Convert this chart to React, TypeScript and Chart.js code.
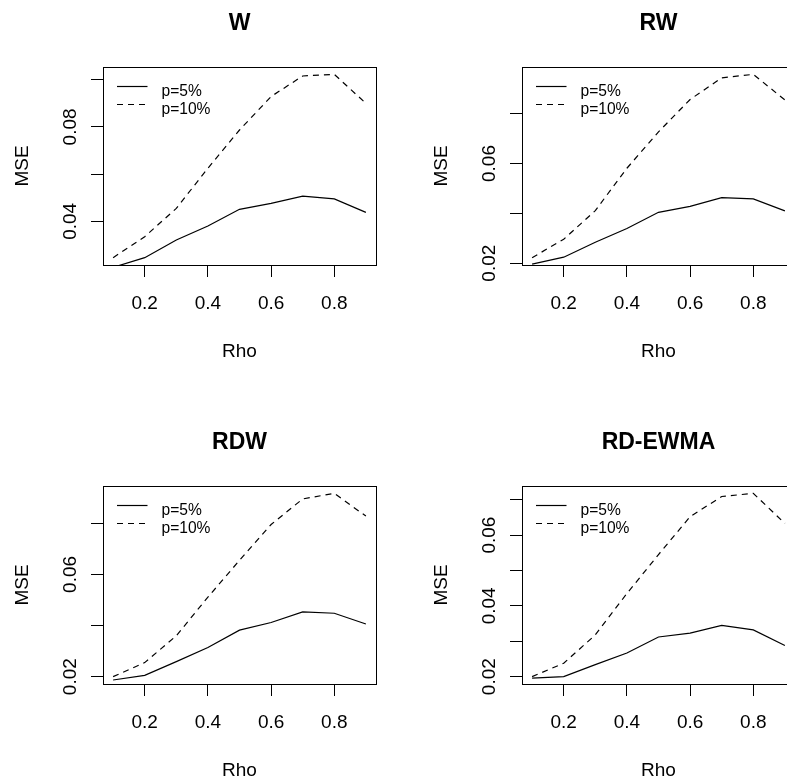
import React, { useEffect, useRef } from 'react';
import { Chart, registerables } from 'chart.js';

Chart.register(...registerables);

// ---- data ----
const rho = [0.1, 0.2, 0.3, 0.4, 0.5, 0.6, 0.7, 0.8, 0.9];

const wP5 = [0.0205, 0.0246, 0.0321, 0.038, 0.0451, 0.0476, 0.0507, 0.0495, 0.0438];
const wP10 = [0.0246, 0.0335, 0.0455, 0.0625, 0.0787, 0.0929, 0.1016, 0.1023, 0.09];

const rwP5 = [0.0196, 0.0224, 0.0284, 0.0339, 0.0404, 0.0428, 0.0463, 0.0458, 0.041];
const rwP10 = [0.0222, 0.0296, 0.0411, 0.0581, 0.0727, 0.0857, 0.0944, 0.0958, 0.0855];

const rdwP5 = [0.0187, 0.0205, 0.0259, 0.0314, 0.0382, 0.0412, 0.0453, 0.0448, 0.0406];
const rdwP10 = [0.02, 0.0255, 0.036, 0.0511, 0.0655, 0.0795, 0.0895, 0.0917, 0.0828];

const ewmaP5 = [0.0196, 0.02, 0.0234, 0.0267, 0.0312, 0.0323, 0.0345, 0.0332, 0.0288];
const ewmaP10 = [0.02, 0.0238, 0.0318, 0.0435, 0.0545, 0.0652, 0.0709, 0.0718, 0.0633];

const xTicks = [0.2, 0.4, 0.6, 0.8];
const wYTicks = [0.04, 0.06, 0.08, 0.1];
const wYLabels = [0.04, 0.08];
const rwYTicks = [0.02, 0.04, 0.06, 0.08];
const rwYLabels = [0.02, 0.06];
const rdwYTicks = [0.02, 0.04, 0.06, 0.08];
const rdwYLabels = [0.02, 0.06];
const ewmaYTicks = [0.02, 0.03, 0.04, 0.05, 0.06, 0.07];
const ewmaYLabels = [0.02, 0.04, 0.06];

const seriesLabels = ['p=5%', 'p=10%'];
const panelTitles = ['W', 'RW', 'RDW', 'RD-EWMA'];
const xTitle = 'Rho';
const yTitle = 'MSE';

const FONT = "'Liberation Sans', Arial, Helvetica, sans-serif";
const CW = 419;
const CH = 419;

const framePlugin = {
  id: 'frame',
  afterDraw(chart: any, _args: any, opts: any) {
    const { ctx, chartArea } = chart;
    const { left, top, right, bottom } = chartArea;
    ctx.save();
    // box
    ctx.strokeStyle = '#000';
    ctx.lineWidth = 1;
    ctx.setLineDash([]);
    const l = Math.round(left) + 0.5;
    const t = Math.round(top) + 0.5;
    const r = Math.round(right) + 0.5;
    const b = Math.round(bottom) + 0.5;
    ctx.strokeRect(l, t, r - l, b - t);
    // title
    ctx.fillStyle = '#000';
    ctx.font = `bold 23px ${FONT}`;
    ctx.textAlign = 'center';
    ctx.textBaseline = 'alphabetic';
    ctx.fillText(opts.title, (left + right) / 2, top - 37.5);
    // legend
    chart.data.datasets.forEach((ds: any, i: number) => {
      const y = Math.round(top + 19 + i * 18) + 0.5;
      ctx.lineWidth = 1.2;
      ctx.setLineDash(ds.borderDash || []);
      ctx.beginPath();
      ctx.moveTo(left + 14, y);
      ctx.lineTo(left + 44.5, y);
      ctx.stroke();
      ctx.setLineDash([]);
      ctx.font = `15.6px ${FONT}`;
      ctx.textAlign = 'left';
      ctx.textBaseline = 'alphabetic';
      ctx.fillText(ds.label, left + 58.5, y + 9);
    });
    ctx.restore();
  },
};

function near(a: number, list: number[]) {
  return list.some((v) => Math.abs(v - a) < 1e-9);
}

function Panel(props: { title: string; p5: number[]; p10: number[]; yTicks: number[]; yLabels: number[] }) {
  const ref = useRef<HTMLCanvasElement | null>(null);
  useEffect(() => {
    const { title, p5, p10, yTicks, yLabels } = props;
    const lo = Math.min(...p10);
    const hi = Math.max(...p10);
    const yPad = (hi - lo) * 0.04;
    const xlo = Math.min(...rho);
    const xhi = Math.max(...rho);
    const xPad = (xhi - xlo) * 0.04;
    const gridOpts = {
      display: true,
      drawOnChartArea: false,
      drawTicks: true,
      tickLength: 12,
      color: '#000',
      lineWidth: 1,
    };
    const chart = new Chart(ref.current as HTMLCanvasElement, {
      type: 'line',
      data: {
        datasets: [
          {
            label: seriesLabels[0],
            data: rho.map((x, i) => ({ x, y: p5[i] })),
            borderColor: '#000',
            borderWidth: 1.2,
            pointRadius: 0,
            tension: 0,
            fill: false,
          },
          {
            label: seriesLabels[1],
            data: rho.map((x, i) => ({ x, y: p10[i] })),
            borderColor: '#000',
            borderWidth: 1.2,
            borderDash: [6, 5],
            pointRadius: 0,
            tension: 0,
            fill: false,
          },
        ],
      },
      options: {
        animation: false,
        responsive: false,
        devicePixelRatio: 1,
        layout: { padding: { top: 67, right: CW - 376, left: 0, bottom: 0 } },
        plugins: {
          legend: { display: false },
          tooltip: { enabled: false },
          title: { display: false },
          frame: { title },
        } as any,
        scales: {
          x: {
            type: 'linear',
            bounds: 'data',
            min: xlo - xPad,
            max: xhi + xPad,
            afterBuildTicks: (s: any) => {
              s.ticks = xTicks.map((v) => ({ value: v }));
            },
            afterFit: (s: any) => {
              s.height = CH - 265;
            },
            grid: gridOpts,
            border: { display: false },
            ticks: {
              font: { family: FONT, size: 19 },
              color: '#000',
              padding: 15,
              autoSkip: false,
              maxRotation: 0,
              minRotation: 0,
              callback: (v: any) => Number(v).toFixed(1),
            },
            title: {
              display: true,
              text: xTitle,
              font: { family: FONT, size: 19 },
              color: '#000',
              padding: { top: 0, bottom: 56 },
            },
          },
          y: {
            type: 'linear',
            bounds: 'data',
            min: lo - yPad,
            max: hi + yPad,
            afterBuildTicks: (s: any) => {
              s.ticks = yTicks.map((v) => ({ value: v }));
            },
            afterFit: (s: any) => {
              s.width = 103;
            },
            grid: gridOpts,
            border: { display: false },
            ticks: {
              font: { family: FONT, size: 19 },
              color: '#000',
              padding: 2,
              autoSkip: false,
              minRotation: 90,
              maxRotation: 90,
              crossAlign: 'center',
              callback: (v: any) => (near(Number(v), yLabels) ? Number(v).toFixed(2) : ''),
            },
            title: {
              display: true,
              text: yTitle,
              font: { family: FONT, size: 19 },
              color: '#000',
              padding: { top: 11, bottom: 0 },
            },
          },
        },
      } as any,
      plugins: [framePlugin],
    });
    return () => chart.destroy();
  }, []);
  return <canvas ref={ref} width={CW} height={CH} style={{ display: 'block', width: CW, height: CH }} />;
}

export default function App() {
  return (
    <div
      style={{
        position: 'absolute',
        left: 0,
        top: 0,
        width: 787,
        height: 780,
        overflow: 'hidden',
        background: '#fff',
      }}
    >
      <div
        style={{
          display: 'grid',
          gridTemplateColumns: `${CW}px ${CW}px`,
          gridTemplateRows: `${CH}px ${CH}px`,
          width: CW * 2,
        }}
      >
        <Panel title={panelTitles[0]} p5={wP5} p10={wP10} yTicks={wYTicks} yLabels={wYLabels} />
        <Panel title={panelTitles[1]} p5={rwP5} p10={rwP10} yTicks={rwYTicks} yLabels={rwYLabels} />
        <Panel title={panelTitles[2]} p5={rdwP5} p10={rdwP10} yTicks={rdwYTicks} yLabels={rdwYLabels} />
        <Panel title={panelTitles[3]} p5={ewmaP5} p10={ewmaP10} yTicks={ewmaYTicks} yLabels={ewmaYLabels} />
      </div>
    </div>
  );
}
